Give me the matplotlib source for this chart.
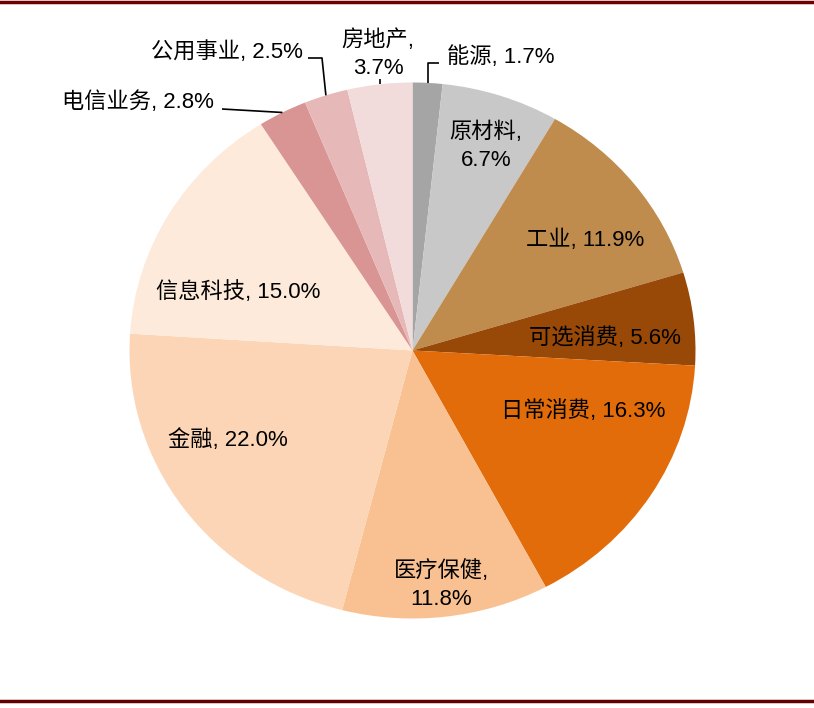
import matplotlib
matplotlib.use("Agg")
import matplotlib.pyplot as plt
from matplotlib.lines import Line2D
import numpy as np

plt.rcParams['font.family'] = ['Liberation Sans', 'Noto Sans CJK SC', 'DejaVu Sans']

sectors = ['能源', '原材料', '工业', '可选消费', '日常消费', '医疗保健',
           '金融', '信息科技', '电信业务', '公用事业', '房地产']
weights = [1.7, 6.7, 11.9, 5.6, 16.3, 11.8, 22.0, 15.0, 2.8, 2.5, 3.7]
colors = ['#A5A5A5', '#C8C8C8', '#BF8C4E', '#984807', '#E36C0A', '#F9C192',
          '#FBD5B5', '#FDEADA', '#D99594', '#E6B9B8', '#F2DCDB']
label_texts = ['能源, 1.7%', '原材料,\n6.7%', '工业, 11.9%', '可选消费, 5.6%',
               '日常消费, 16.3%', '医疗保健,\n11.8%', '金融, 22.0%',
               '信息科技, 15.0%', '电信业务, 2.8%', '公用事业, 2.5%', '房地产,\n3.7%']

W, H = 814, 708
CX, CY, RX, RY = 412.5, 350.5, 283.0, 268.0

fig = plt.figure(figsize=(W / 100, H / 100), dpi=100)
ax = fig.add_axes([(CX - RX) / W, (H - (CY + RY)) / H, 2 * RX / W, 2 * RY / H])
wedges, _ = ax.pie(weights, colors=colors, startangle=90, counterclock=False,
                   wedgeprops=dict(linewidth=0))
ax.set_aspect('auto')
ax.set_xlim(-1, 1)
ax.set_ylim(-1, 1)
ax.axis('off')


def d(px, py):
    return (px - CX) / RX, (CY - py) / RY


# label placement (pixel positions in the reference) and alignment
label_pos = [(447, 57, 'left'), (486, 146, 'center'), (585, 240, 'center'),
             (605, 338, 'center'), (583, 411, 'center'), (441, 585, 'center'),
             (228, 440, 'center'), (238, 292, 'center'), (214, 102, 'right'),
             (303, 52, 'right'), (378, 54, 'center')]

for txt, (px, py, ha) in zip(label_texts, label_pos):
    x, y = d(px, py)
    ax.text(x, y, txt, ha=ha, va='center', fontsize=16, color='black',
            linespacing=1.42, multialignment='center', clip_on=False)

# leader lines from wedge mid-angle edge to labels
cum = np.cumsum([0] + weights)
total = sum(weights)
mids = [90 - 360 * (cum[i] + weights[i] / 2) / total for i in range(len(weights))]

def edge(i):
    a = np.deg2rad(mids[i])
    return np.cos(a), np.sin(a)

leaders = {
    0: [d(428, 63), d(439, 63)],
    10: [d(379.5, 79)],
    9: [d(322, 58), d(308, 58)],
    8: [d(222, 109)],
}
for i, pts in leaders.items():
    ex, ey = edge(i)
    if i == 0:
        pts = [(ex, pts[0][1]), pts[1]]
    if i == 10:
        pts = [(ex, pts[0][1])]
    xs = [ex] + [p[0] for p in pts]
    ys = [ey] + [p[1] for p in pts]
    ax.plot(xs, ys, color='black', linewidth=1.2, clip_on=False,
            solid_capstyle='butt')

# top and bottom dark red rules
fig.add_artist(Line2D([0, 1], [1 - 1.5 / H, 1 - 1.5 / H], color='#6E0000', linewidth=2.5))
fig.add_artist(Line2D([0, 1], [1 - 700.5 / H, 1 - 700.5 / H], color='#640000', linewidth=2.5))

fig.savefig('out.png', dpi=100)
